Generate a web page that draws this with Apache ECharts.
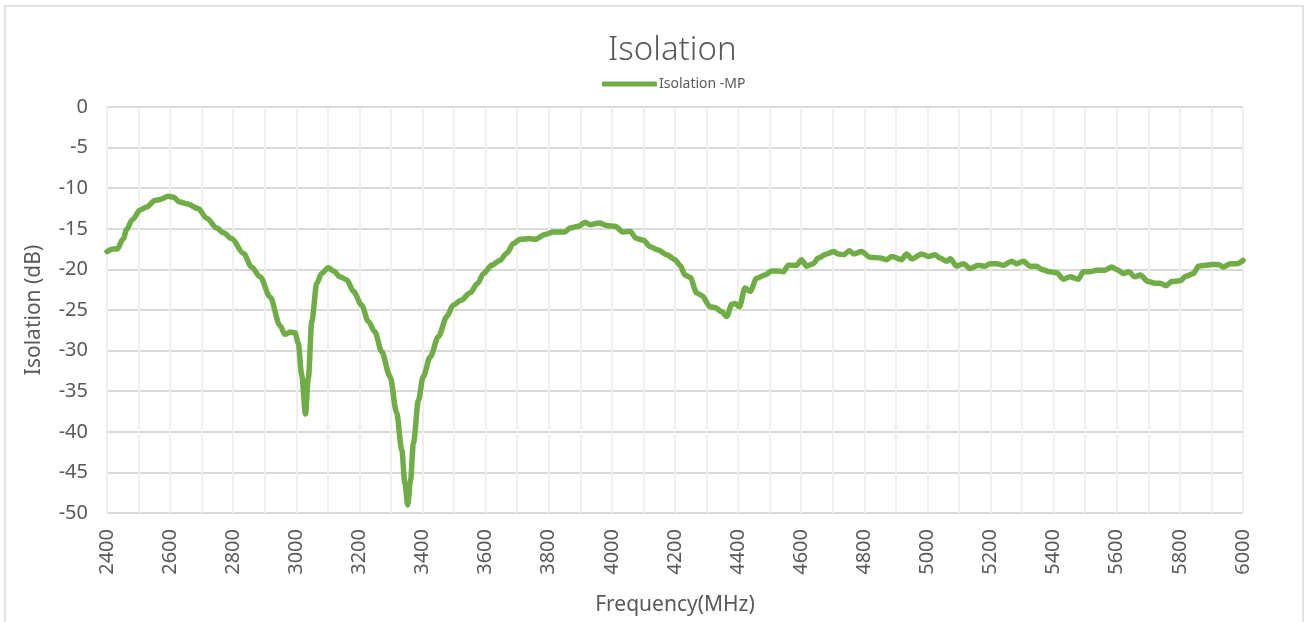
<!DOCTYPE html>
<html>
<head>
<meta charset="utf-8">
<title>Isolation</title>
<script src="https://cdn.jsdelivr.net/npm/echarts@6/dist/echarts.min.js"></script>
<style>
  html, body { margin: 0; padding: 0; background: #fff; }
  #chart { width: 1307px; height: 622px; }
</style>
</head>
<body>
<div id="chart"></div>
<script>
// frequency (MHz) and isolation (dB)
var freqs = [
  2400, 2420, 2432, 2452, 2462, 2480, 2505, 2526, 2552, 2568, 2594, 2610, 2631, 2653, 2689,
  2716, 2748, 2769, 2795, 2832, 2858, 2885, 2917, 2948, 2964, 2980, 2996, 3006, 3017, 3029,
  3038, 3049, 3065, 3080, 3101, 3118, 3138, 3160, 3181, 3207, 3228, 3249, 3270, 3297, 3318,
  3334, 3344, 3353, 3362, 3371, 3387, 3402, 3424, 3450, 3477, 3497, 3522, 3550, 3575, 3593,
  3619, 3645, 3667, 3688, 3709, 3740, 3756, 3788, 3814, 3851, 3867, 3894, 3915, 3931, 3960,
  3983, 4010, 4036, 4057, 4078, 4100, 4121, 4147, 4174, 4200, 4216, 4232, 4248, 4269, 4285,
  4311, 4327, 4348, 4364, 4380, 4391, 4404, 4422, 4438, 4459, 4485, 4506, 4527, 4543, 4559,
  4585, 4601, 4617, 4638, 4654, 4680, 4703, 4717, 4735, 4752, 4767, 4791, 4818, 4850, 4871,
  4887, 4918, 4934, 4950, 4982, 5003, 5024, 5040, 5061, 5072, 5093, 5114, 5135, 5161, 5182,
  5198, 5219, 5240, 5267, 5282, 5304, 5325, 5346, 5362, 5388, 5409, 5431, 5452, 5478, 5494,
  5515, 5536, 5563, 5584, 5600, 5621, 5637, 5658, 5674, 5700, 5721, 5737, 5756, 5774, 5800,
  5821, 5843, 5859, 5880, 5901, 5922, 5938, 5960, 5980, 6000
];
var isolationMP = [
  -17.8, -17.5, -17.5, -16.2, -15.1, -13.9, -12.7, -12.3, -11.5, -11.4, -11.0, -11.1, -11.7, -11.9, -12.5,
  -13.7, -14.9, -15.5, -16.2, -18.0, -19.7, -20.9, -23.4, -26.9, -28.0, -27.7, -27.8, -29.1, -33.0, -37.8,
  -33.4, -26.4, -21.7, -20.5, -19.8, -20.2, -20.9, -21.3, -22.7, -24.4, -26.4, -27.7, -30.1, -33.2, -37.7,
  -42.2, -46.3, -49.0, -45.9, -41.4, -36.1, -33.2, -30.8, -28.3, -25.8, -24.4, -23.8, -22.9, -21.7, -20.5,
  -19.5, -18.9, -18.0, -16.8, -16.3, -16.2, -16.3, -15.7, -15.4, -15.4, -14.9, -14.7, -14.2, -14.5, -14.3,
  -14.6, -14.7, -15.4, -15.3, -16.2, -16.4, -17.2, -17.6, -18.2, -18.8, -19.5, -20.7, -21.0, -22.9, -23.2,
  -24.6, -24.7, -25.2, -25.8, -24.3, -24.2, -24.6, -22.3, -22.7, -21.1, -20.7, -20.2, -20.2, -20.3, -19.5,
  -19.5, -18.8, -19.6, -19.3, -18.6, -18.1, -17.8, -18.1, -18.2, -17.7, -18.1, -17.8, -18.5, -18.6, -18.8,
  -18.4, -18.8, -18.1, -18.7, -18.1, -18.4, -18.2, -18.6, -19.0, -18.7, -19.6, -19.3, -19.9, -19.5, -19.6,
  -19.3, -19.3, -19.5, -19.0, -19.3, -19.0, -19.6, -19.6, -20.0, -20.3, -20.4, -21.2, -20.9, -21.2, -20.3,
  -20.3, -20.1, -20.1, -19.7, -20.0, -20.5, -20.3, -20.9, -20.7, -21.5, -21.7, -21.7, -22.0, -21.5, -21.4,
  -20.8, -20.5, -19.6, -19.5, -19.4, -19.4, -19.7, -19.3, -19.3, -18.9
];

var textColor = '#595959'
var fontFamily = '"Noto Sans", "Open Sans", sans-serif'

var chart = echarts.init(document.getElementById('chart'))
chart.setOption({
  backgroundColor: '#fff',
  animation: false,
  textStyle: { fontFamily: fontFamily },
  graphic: [{
    type: 'rect',
    shape: { x: 5, y: 6, width: 1298, height: 640 },
    style: { fill: 'none', stroke: '#d9d9d9', lineWidth: 1.5 },
    silent: true
  }],
  title: {
    text: 'Isolation',
    left: 603,
    top: 29,
    textStyle: {
      fontFamily: fontFamily,
      fontWeight: 300,
      fontSize: 33,
      color: textColor
    }
  },
  legend: {
    left: 597,
    top: 72,
    itemWidth: 55,
    itemHeight: 5,
    itemGap: 10,
    icon: 'roundRect',
    textStyle: { fontSize: 14, color: textColor, padding: [0, 0, 0, -3] },
    data: ['Isolation -MP']
  },
  grid: {
    left: 107,
    right: 64,
    top: 107,
    bottom: 109
  },
  xAxis: {
    type: 'value',
    min: 2400,
    max: 6000,
    interval: 200,
    name: 'Frequency(MHz)',
    nameLocation: 'middle',
    nameGap: 82,
    nameTextStyle: { fontSize: 21, color: textColor },
    axisLine: { show: false },
    axisTick: { show: false },
    axisLabel: {
      rotate: 90,
      margin: 16,
      fontSize: 20,
      color: textColor,
      formatter: function (v) { return String(v) }
    },
    splitLine: { show: true, lineStyle: { color: '#efefef', width: 2 } },
    minorTick: { show: false, splitNumber: 2 },
    minorSplitLine: { show: true, lineStyle: { color: '#efefef', width: 2 } }
  },
  yAxis: {
    type: 'value',
    min: -50,
    max: 0,
    interval: 5,
    name: 'Isolation (dB)',
    nameLocation: 'middle',
    nameGap: 62,
    nameTextStyle: { fontSize: 21, color: textColor },
    axisLine: { show: false },
    axisTick: { show: false },
    axisLabel: { margin: 19, fontSize: 20, color: textColor },
    splitLine: { show: true, lineStyle: { color: '#d9d9d9', width: 2 } }
  },
  series: [{
    name: 'Isolation -MP',
    type: 'line',
    data: freqs.map(function (f, i) { return [f, isolationMP[i]] }),
    showSymbol: false,
    symbol: 'none',
    smooth: 0.3,
    smoothMonotone: 'x',
    clip: true,
    itemStyle: { color: '#70ad47' },
    lineStyle: { color: '#70ad47', width: 5.5, cap: 'round', join: 'round' }
  }]
})
</script>
</body>
</html>
